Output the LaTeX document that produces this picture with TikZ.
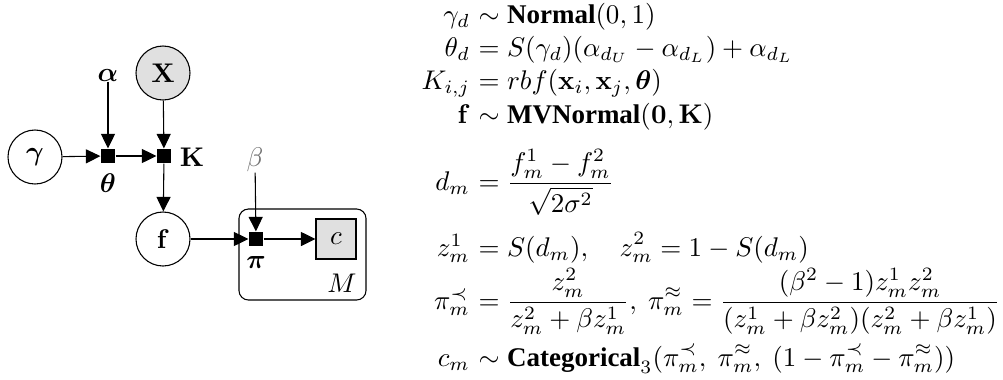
\documentclass[tikz,border=0pt]{standalone}
\usepackage{amsmath,amssymb,bm}
\usepackage[no-math]{fontspec}
\setmainfont{Liberation Serif}
\usetikzlibrary{arrows.meta}
\tikzset{
  latentnode/.style={circle,draw,line width=0.4pt,minimum size=20pt,inner sep=0pt},
  obsnode/.style={latentnode,fill=black!12},
  factornode/.style={rectangle,fill=black,minimum size=5.2pt,inner sep=0pt},
  obsbox/.style={rectangle,draw,fill=black!12,minimum size=14.8pt,inner sep=0pt},
  labelnode/.style={inner sep=0pt},
  platebox/.style={draw,rounded corners=3.5pt,line width=0.4pt},
  edgearrow/.style={-{Triangle[length=5.4pt,width=5.2pt]},line width=0.4pt},
  eqleft/.style={anchor=base east,inner sep=0pt},
  eqright/.style={anchor=base west,inner sep=0pt},
}
\begin{document}
\begin{tikzpicture}[x=0.37037pt,y=-0.37037pt]
\useasboundingbox (0,0) rectangle (1003,379);
% plate
\draw[platebox] (239,209) rectangle (366,300);
\node[labelnode] (M) at (342,283) {$M$};
% nodes
\node[latentnode] (gamma) at (35,157) {$\bm{\gamma}$};
\node[factornode] (thetaF) at (108,156) {};
\node[factornode] (KF) at (164,156) {};
\node[obsnode] (X) at (163,73) {$\mathbf{X}$};
\node[labelnode] (alpha) at (108,75) {$\bm{\alpha}$};
\node[labelnode] (thetaL) at (108,183) {$\bm{\theta}$};
\node[labelnode] (KL) at (192,157) {$\mathbf{K}$};
\node[latentnode] (f) at (163,239) {$\mathbf{f}$};
\node[factornode] (piF) at (256,239) {};
\node[labelnode] (piL) at (256,262) {$\bm{\pi}$};
\node[labelnode,text=black!55] (beta) at (255,160) {$\beta$};
\node[obsbox] (c) at (336,239) {$c$};
% edges
\draw[edgearrow] (gamma) -- (thetaF);
\draw[edgearrow] (alpha) -- (thetaF);
\draw[edgearrow] (thetaF) -- (KF);
\draw[edgearrow] (X) -- (KF);
\draw[edgearrow] (KF) -- (f);
\draw[edgearrow] (f) -- (piF);
\draw[edgearrow] (beta) -- (piF);
\draw[edgearrow] (piF) -- (c);
% equations
\node[eqleft] (l1) at (470.5,23) {$\gamma_d$};
\node[eqright] (r1) at (470.5,23) {$\displaystyle{}\sim \textbf{Normal}(0,1)$};
\node[eqleft] (l2) at (470.5,56) {$\theta_d$};
\node[eqright] (r2) at (470.5,56) {$\displaystyle{}= S(\gamma_d)(\alpha_{d_U}-\alpha_{d_L})+\alpha_{d_L}$};
\node[eqleft] (l3) at (470.5,89) {$K_{i,j}$};
\node[eqright] (r3) at (470.5,89) {$\displaystyle{}= rbf(\mathbf{x}_i,\mathbf{x}_j,\bm{\theta})$};
\node[eqleft] (l4) at (470.5,123) {$\mathbf{f}$};
\node[eqright] (r4) at (470.5,123) {$\displaystyle{}\sim \textbf{MVNormal}(\mathbf{0},\mathbf{K})$};
\node[eqleft] (l5) at (470.5,190) {$d_m$};
\node[eqright] (r5) at (470.5,190) {$\displaystyle{}= \frac{f_m^1-f_m^2}{\sqrt{2\sigma^2}}$};
\node[eqleft] (l6) at (470.5,256) {$z_m^1$};
\node[eqright] (r6) at (470.5,256) {$\displaystyle{}= S(d_m),\quad z_m^2 = 1-S(d_m)$};
\node[eqleft] (l7) at (470.5,309) {$\pi_m^{\prec}$};
\node[eqright] (r7) at (470.5,309) {$\displaystyle{}= \frac{z_m^2}{z_m^2+\beta z_m^1},\ \pi_m^{\approx} = \frac{(\beta^2-1)z_m^1z_m^2}{(z_m^1+\beta z_m^2)(z_m^2+\beta z_m^1)}$};
\node[eqleft] (l8) at (470.5,366) {$c_m$};
\node[eqright] (r8) at (470.5,366) {$\displaystyle{}\sim \textbf{Categorical}_3(\pi_m^{\prec},\ \pi_m^{\approx},\ (1-\pi_m^{\prec}-\pi_m^{\approx}))$};
\end{tikzpicture}
\end{document}
